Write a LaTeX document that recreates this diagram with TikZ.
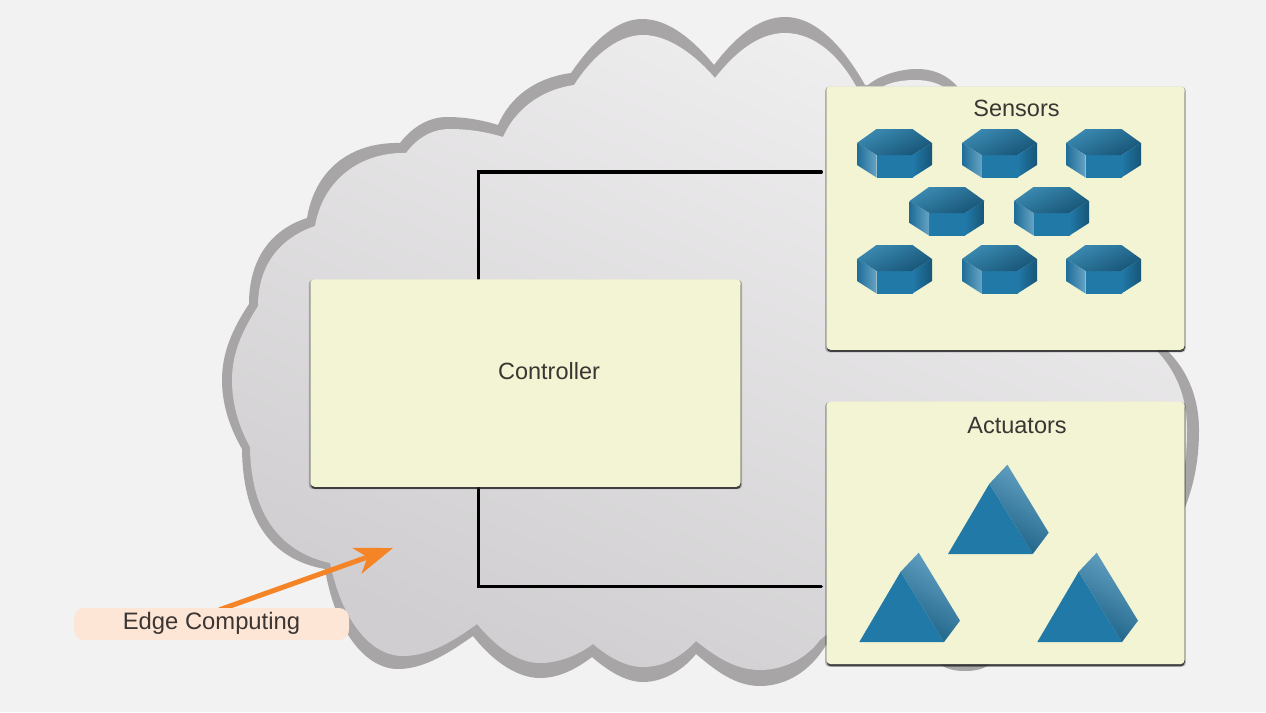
\documentclass[tikz,border=0pt]{standalone}
\usepackage{fontspec}
\setmainfont{Liberation Sans}
\usetikzlibrary{arrows.meta,positioning,shadows,backgrounds}

\definecolor{pagegray}{HTML}{F2F2F2}
\definecolor{cloudrim}{HTML}{A7A5A6}
\definecolor{cloudlight}{HTML}{F1F0F1}
\definecolor{clouddark}{HTML}{D0CED0}
\definecolor{panelfill}{HTML}{F3F4D3}
\definecolor{labeltext}{HTML}{3B3533}
\definecolor{pillfill}{HTML}{FEE6D6}
\definecolor{pointerorange}{HTML}{F58426}
\definecolor{unitfront}{HTML}{2179A8}
\definecolor{unitpale}{HTML}{66A3C4}
\definecolor{unitmid}{HTML}{3B8AB2}
\definecolor{unitdark}{HTML}{175577}

\tikzset{
    sensorunit/.pic={
        \fill[unitfront] (19.5,26) -- (55.5,26) -- (55.5,48.5) -- (19.5,48.5) -- cycle;
        \shade[left color=unitmid, right color=unitdark, shading angle=25]
            (0,14) -- (19.5,0) -- (55.5,0) -- (75,14) -- (55.5,26) -- (19.5,26) -- cycle;
        \shade[left color=unitfront!90!black, right color=unitpale]
            (0,14) -- (19.5,26) -- (19.5,48.5) -- (0,36) -- cycle;
        \shade[left color=unitfront, right color=unitdark]
            (55.5,26) -- (75,14) -- (75,36) -- (55.5,48.5) -- cycle;
    },
    actuatorunit/.pic={
        \fill[unitfront] (0,0) -- (41.4,-70.3) -- (84.7,0) -- cycle;
        \shade[left color=unitpale, right color=unitfront!80!black, shading angle=-30]
            (41.4,-70.3) -- (59.4,-89.3) -- (100.7,-21.3) -- (84.7,0) -- cycle;
    }
}

\begin{document}
\begin{tikzpicture}[
    x=1pt, y=-1pt,
    softedge/.style={general shadow={shadow xshift=0pt, shadow yshift=-1.5pt, shadow scale=1.008, fill=black, opacity=0.25}},
    hardedge/.style={general shadow={shadow xshift=0.3pt, shadow yshift=-2.2pt, fill=black!85, opacity=0.8}},
    panel/.style={rectangle, fill=panelfill, rounded corners=4pt, minimum width=358pt, softedge, hardedge, inner sep=0pt},
    boxlabel/.style={text=labeltext, font=\fontsize{23.5}{28}\selectfont, inner sep=0pt},
    pill/.style={rectangle, fill=pillfill, rounded corners=10pt, minimum width=275pt, minimum height=32pt, inner sep=0pt},
    link/.style={line width=3.4pt, black, shorten >=5pt, line cap=round},
    pointer/.style={-{Stealth[length=38pt, width=27pt, inset=11pt]}, line width=5pt, pointerorange}
]
    \useasboundingbox (0,0) rectangle (1266,712);

    % Panels
    \node[panel, minimum height=263.5pt] (sensors) at (1005.5,218) {};
    \node[panel, minimum height=262.5pt, below=51.5pt of sensors] (actuators) {};
    \node[panel, minimum width=430pt, minimum height=207.5pt] (controller) at (525.5,383) {};
    \node[pill] (edge) at (211.5,624) {};

    % Labels
    \node[boxlabel] (sensorstext) at (1016.5,108) {Sensors};
    \node[boxlabel] (actuatorstext) at (1017,426) {Actuators};
    \node[boxlabel] (controllertext) at (549,371) {Controller};
    \node[boxlabel, font=\fontsize{23.8}{28}\selectfont] (edgetext) at (211.5,623) {Edge Computing};

    % Sensor and actuator units
    \foreach \ux/\uy in {857/129, 962/129, 1066/129, 909.5/187, 1014/187, 857/245, 962/245, 1066/245}
        \pic at (\ux,\uy) {sensorunit};
    \foreach \ux/\uy in {948/554, 859.3/642, 1037.3/642}
        \pic at (\ux,\uy) {actuatorunit};

    % Cloud and connectors, all behind the panels
    \begin{scope}[on background layer]
        \fill[pagegray] (0,0) rectangle (1266,712);
        % rim
        \fill[cloudrim] (400,143)
            .. controls (413,126) and (430,117) .. (447,117) .. controls (465,117) and (482,120) .. (498,125)
            .. controls (510,97) and (535,78) .. (571,73)
            .. controls (590,45) and (615,19) .. (642,19) .. controls (670,19) and (695,42) .. (714,65)
            .. controls (733,40) and (757,17) .. (785,17) .. controls (820,17) and (848,55) .. (865,85)
            -- (868,85) .. controls (880,75) and (900,69) .. (917,69) .. controls (935,69) and (950,76) .. (962,92)
            -- (1100,200) -- (1162,346)
            .. controls (1185,365) and (1199,395) .. (1199,430) .. controls (1199,470) and (1190,500) .. (1175,530)
            -- (1100,640) -- (1000,655)
            .. controls (990,668) and (978,671) .. (965,671) .. controls (952,671) and (940,668) .. (930,655)
            -- (826,645)
            .. controls (810,672) and (785,686) .. (760,686) .. controls (735,686) and (715,670) .. (696,654)
            .. controls (685,668) and (665,682) .. (643,682) .. controls (625,682) and (607,670) .. (592,657)
            .. controls (575,670) and (558,678) .. (540,678) .. controls (515,678) and (490,658) .. (473,636)
            .. controls (450,652) and (425,669) .. (398,669) .. controls (365,669) and (335,630) .. (325,569)
            .. controls (275,560) and (243,525) .. (242,449)
            .. controls (230,428) and (222,405) .. (222,380) .. controls (222,352) and (233,328) .. (249,304)
            .. controls (249,260) and (270,230) .. (307,218)
            .. controls (315,170) and (350,142) .. (400,143) -- cycle;
        % inner face
        \shade[top color=cloudlight, bottom color=clouddark, shading angle=-23] (406,153)
            .. controls (418,137) and (433,129) .. (450,129) .. controls (468,129) and (487,132) .. (503,137)
            .. controls (515,110) and (540,90) .. (574,85)
            .. controls (590,60) and (615,35) .. (643,35) .. controls (670,35) and (697,57) .. (715,78)
            .. controls (733,55) and (757,33) .. (785,33) .. controls (817,33) and (842,60) .. (857,88)
            -- (880,88) .. controls (890,82) and (903,80) .. (915,80) .. controls (930,80) and (942,84) .. (950,92)
            -- (1100,200) -- (1156,350)
            .. controls (1175,370) and (1187,395) .. (1187,430) .. controls (1187,470) and (1180,500) .. (1165,530)
            -- (1000,655) -- (826,635) -- (820,640)
            .. controls (805,660) and (782,670) .. (760,670) .. controls (735,670) and (715,656) .. (696,641)
            .. controls (682,656) and (665,667) .. (643,667) .. controls (625,667) and (607,656) .. (593,644)
            .. controls (577,656) and (558,663) .. (540,663) .. controls (515,663) and (493,643) .. (477,624)
            .. controls (455,640) and (430,656) .. (403,656) .. controls (370,656) and (342,620) .. (330,563)
            .. controls (285,553) and (251,520) .. (250,447)
            .. controls (238,425) and (232,403) .. (232,380) .. controls (232,352) and (243,330) .. (258,306)
            .. controls (258,265) and (280,238) .. (315,226)
            .. controls (323,180) and (360,152) .. (406,153) -- cycle;

        % Connectors
        \draw[link] ([xshift=168pt]controller.north west) |- ([yshift=-86pt]sensors.north west);
        \draw[link] ([xshift=168pt]controller.south west) |- ([yshift=-185pt]actuators.north west);

        % Pointer
        \coordinate (edgetip) at (393,548);
        \draw[pointer] ([xshift=8pt,yshift=-2pt]edge.north) -- (edgetip);
    \end{scope}
\end{tikzpicture}
\end{document}
